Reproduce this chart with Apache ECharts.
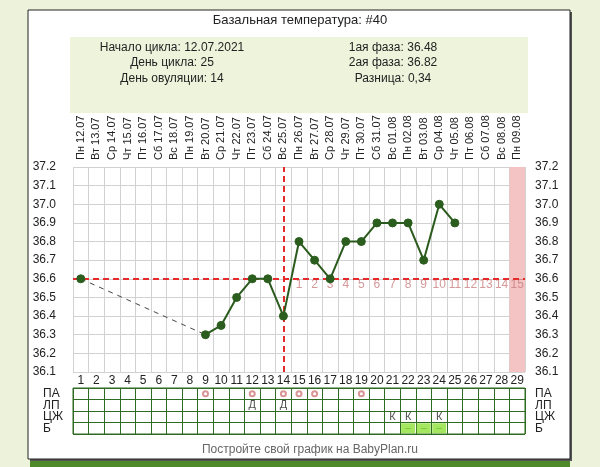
<!DOCTYPE html>
<html><head><meta charset="utf-8">
<script src="https://cdn.jsdelivr.net/npm/echarts@6/dist/echarts.min.js"></script>
<style>html,body{margin:0;padding:0;background:#edf3da;}#c{width:600px;height:467px;}</style>
</head><body><div id="c"></div>
<script>
const days = ['1','2','3','4','5','6','7','8','9','10','11','12','13','14','15','16','17','18','19','20','21','22','23','24','25','26','27','28','29'];
const dates = ['Пн 12.07','Вт 13.07','Ср 14.07','Чт 15.07','Пт 16.07','Сб 17.07','Вс 18.07','Пн 19.07','Вт 20.07','Ср 21.07','Чт 22.07','Пт 23.07','Сб 24.07','Вс 25.07','Пн 26.07','Вт 27.07','Ср 28.07','Чт 29.07','Пт 30.07','Сб 31.07','Вс 01.08','Пн 02.08','Вт 03.08','Ср 04.08','Чт 05.08','Пт 06.08','Сб 07.08','Вс 08.08','Пн 09.08'];
const temps = [36.6,null,null,null,null,null,null,null,36.3,36.35,36.5,36.6,36.6,36.4,36.8,36.7,36.6,36.8,36.8,36.9,36.9,36.9,36.7,37.0,36.9,null,null,null,null];
const gapLine = [36.6,null,null,null,null,null,null,null,36.3,null,null,null,null,null,null,null,null,null,null,null,null,null,null,null,null,null,null,null,null];
const coverline = 36.6;
const ovulationDay = '14';
const pinkDay = '29';
const postOvLabels = ['1','2','3','4','5','6','7','8','9','10','11','12','13','14','15'];
const postOvDays = ['15','16','17','18','19','20','21','22','23','24','25','26','27','28','29'];
const tableRows = ['ПА','ЛП','ЦЖ','Б'];
const paDays = ['9','12','14','15','16','19'];
const lpDays = ['12','14'];
const czDays = ['21','22','24'];
const bDays = ['22','23','24'];
const yTicks = {min:36.1, max:37.2, step:0.1};
const info = {
  title:'Базальная температура: #40',
  left:['Начало цикла: 12.07.2021','День цикла: 25','День овуляции: 14'],
  right:['1ая фаза: 36.48','2ая фаза: 36.82','Разница: 0,34'],
  footer:'Постройте свой график на BabyPlan.ru'
};

const chart = echarts.init(document.getElementById('c'), null, {renderer:'canvas'});
const F = 'Liberation Sans, Arial, sans-serif';
const txt = '#222';
const tableGreen = '#2f6b22';

const graphics = [
  {type:'rect', shape:{x:30,y:461,width:540,height:6}, style:{fill:'#4f8a2a'}, z:-12},
  {type:'rect', shape:{x:30,y:12,width:542,height:449}, style:{fill:'#555'}, z:-11},
  {type:'rect', shape:{x:28,y:10,width:542,height:449}, style:{fill:'#fff', stroke:'#222', lineWidth:1}, z:-10},
  {type:'rect', shape:{x:70,y:37,width:458,height:76}, style:{fill:'#eef4dc'}, z:-9},
  {type:'text', x:300, y:20, style:{text:info.title, font:'13px '+F, fill:txt, textAlign:'center', textVerticalAlign:'middle'}},
  {type:'text', x:310, y:450, style:{text:info.footer, font:'12px '+F, fill:'#666', textAlign:'center', textVerticalAlign:'middle'}}
];
const lineY = [48,63,79];
info.left.forEach((t,i)=>graphics.push({type:'text', x:172, y:lineY[i], style:{text:t, font:'12px '+F, fill:txt, textAlign:'center', textVerticalAlign:'middle'}}));
info.right.forEach((t,i)=>graphics.push({type:'text', x:393, y:lineY[i], style:{text:t, font:'12px '+F, fill:txt, textAlign:'center', textVerticalAlign:'middle'}}));

const pinkData = days.map(d => d === pinkDay ? yTicks.max : null);

chart.setOption({
  animation:false,
  backgroundColor:'transparent',
  textStyle:{fontFamily:F},
  graphic:graphics,
  grid:[
    {left:73, top:167, width:452, height:205},
    {left:73, top:388, width:452, height:46, show:true, borderColor:tableGreen, borderWidth:1}
  ],
  xAxis:[
    {type:'category', gridIndex:0, data:days, position:'bottom', boundaryGap:true,
     axisLine:{show:false}, axisTick:{show:false},
     axisLabel:{color:txt, fontSize:12, margin:3, interval:0},
     splitLine:{show:true, interval:0, lineStyle:{color:'#d2d2d2', width:1}}},
    {type:'category', gridIndex:0, data:dates, position:'top', boundaryGap:true,
     axisLine:{show:false}, axisTick:{show:false},
     axisLabel:{color:txt, fontSize:11, margin:7, rotate:-90, interval:0},
     splitLine:{show:false}},
    {type:'category', gridIndex:1, data:days, boundaryGap:true,
     axisLine:{show:false}, axisTick:{show:false}, axisLabel:{show:false},
     splitLine:{show:true, interval:0, lineStyle:{color:tableGreen, width:1}}}
  ],
  yAxis:[
    {type:'value', gridIndex:0, min:yTicks.min, max:yTicks.max, interval:yTicks.step, position:'left',
     axisLine:{show:false}, axisTick:{show:false},
     axisLabel:{color:txt, fontSize:12, margin:17, formatter:v=>v.toFixed(1)},
     splitLine:{show:true, lineStyle:{color:'#d2d2d2', width:1}}},
    {type:'value', gridIndex:0, min:yTicks.min, max:yTicks.max, interval:yTicks.step, position:'right',
     axisLine:{show:false}, axisTick:{show:false},
     axisLabel:{color:txt, fontSize:12, margin:10, formatter:v=>v.toFixed(1)},
     splitLine:{show:false}},
    {type:'category', gridIndex:1, data:tableRows, inverse:true, position:'left', boundaryGap:true,
     axisLine:{show:false}, axisTick:{show:false},
     axisLabel:{color:txt, fontSize:12, margin:30, align:'left', interval:0, lineHeight:11, padding:[3,0,0,0]},
     splitLine:{show:true, interval:0, lineStyle:{color:tableGreen, width:1}}},
    {type:'category', gridIndex:1, data:tableRows, inverse:true, position:'right', boundaryGap:true,
     axisLine:{show:false}, axisTick:{show:false},
     axisLabel:{color:txt, fontSize:12, margin:10, align:'left', interval:0, lineHeight:11, padding:[3,0,0,0]},
     splitLine:{show:false}}
  ],
  series:[
    {type:'bar', xAxisIndex:0, yAxisIndex:0, data:pinkData, barWidth:'100%', itemStyle:{color:'#f4c3c3'}, z:1, silent:true},
    {type:'line', xAxisIndex:0, yAxisIndex:0, data:gapLine, connectNulls:true, showSymbol:false,
     lineStyle:{color:'#444', width:1, type:[5,5]}, z:3},
    {type:'line', xAxisIndex:0, yAxisIndex:0, data:temps, connectNulls:false,
     symbol:'circle', symbolSize:8, showAllSymbol:true,
     lineStyle:{color:'#2a5a1c', width:2}, itemStyle:{color:'#2b5e1e', borderColor:'#2b5e1e', borderWidth:1}, z:5,
     markLine:{silent:true, symbol:['none','none'], label:{show:false},
       lineStyle:{color:'#e42a2a', width:2, type:[6,4]},
       data:[{yAxis:coverline},{xAxis:ovulationDay}]}},
    {type:'scatter', xAxisIndex:0, yAxisIndex:0, symbolSize:0,
     data:postOvDays.map((d,i)=>({value:[d, coverline], label:{formatter:postOvLabels[i]}})),
     label:{show:true, position:'bottom', distance:0, color:'#c98080', fontSize:12}, z:4, silent:true},
    {type:'scatter', xAxisIndex:2, yAxisIndex:2, symbol:'rect', symbolSize:[14,10],
     data:bDays.map(d=>({value:[d,'Б'], label:{formatter:'–'}})),
     itemStyle:{color:'#8ee03a'}, label:{show:true, position:'inside', color:'#5db82a', fontSize:10}, silent:true, z:2},
    {type:'scatter', xAxisIndex:2, yAxisIndex:2, symbol:'emptyCircle', symbolSize:5,
     data:paDays.map(d=>[d,'ПА']), itemStyle:{color:'#d07a7a', borderWidth:1}, silent:true, z:3},
    {type:'scatter', xAxisIndex:2, yAxisIndex:2, symbolSize:0,
     data:lpDays.map(d=>({value:[d,'ЛП'], label:{formatter:'Д'}})),
     label:{show:true, position:'inside', color:'#222', fontSize:11}, silent:true, z:3},
    {type:'scatter', xAxisIndex:2, yAxisIndex:2, symbolSize:0,
     data:czDays.map(d=>({value:[d,'ЦЖ'], label:{formatter:'К'}})),
     label:{show:true, position:'inside', color:'#222', fontSize:11}, silent:true, z:3}
  ]
});
</script></body></html>
